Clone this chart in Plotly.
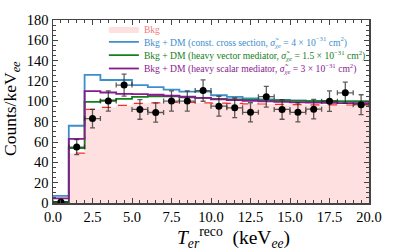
import plotly.graph_objects as go

bin_edges = [0, 1, 2, 3, 4, 5, 6, 7, 8, 9, 10, 11, 12, 13, 14, 15, 16, 17, 18, 19, 20]
bin_centers = [0.5, 1.5, 2.5, 3.5, 4.5, 5.5, 6.5, 7.5, 8.5, 9.5, 10.5, 11.5, 12.5, 13.5, 14.5, 15.5, 16.5, 17.5, 18.5, 19.5]

bkg = [0.5, 49, 92, 94, 96, 98, 98.5, 99, 99, 98.5, 98.3, 98, 97.5, 97.4, 97, 96.8, 96.6, 96.5, 96.4, 96.4]
dm_const = [7, 76, 126, 121, 121, 116, 114, 111.5, 109.5, 109.5, 106, 104.3, 103, 102, 101.5, 101, 100.5, 100.3, 100, 100]
dm_vector = [1, 54, 99.5, 101, 102.5, 104.3, 105, 105, 104, 103.5, 102.5, 102, 101.5, 101, 100.8, 100.5, 100.3, 100.2, 100, 100]
dm_scalar = [4.5, 63, 110, 108.7, 107.4, 107, 106.5, 105.5, 104.5, 103.5, 102, 101.1, 100.5, 100, 99.5, 99, 98.8, 98.5, 98.3, 98.3]

data_counts = [1, 55, 83, 100.3, 116, 92, 89, 100.3, 100.3, 110.6, 95.2, 93.6, 89.2, 104.6, 92, 89.2, 92.3, 100.2, 108.4, 96.7]
data_err = [1, 7.4, 9.1, 10, 10.8, 9.6, 9.4, 10, 10, 10.5, 9.8, 9.7, 9.4, 10.2, 9.6, 9.4, 9.6, 10, 10.4, 9.8]
data_xerr = [0.5] * 20

FONT = "Liberation Serif"
C_BKG_FILL = "#ffe0e0"
C_BKG_LINE = "#ff2a2a"
C_BKG_TEXT = "#f27c7c"
C_BLUE = "#3d8ecb"
C_GREEN = "#14801a"
C_PURPLE = "#8a1a8f"

def step(vals):
    return list(vals) + [vals[-1]]

fig = go.Figure()

fig.add_trace(go.Scatter(
    x=bin_edges, y=step(bkg), mode="lines", line=dict(width=0, shape="hv"),
    fill="tozeroy", fillcolor=C_BKG_FILL, legend="legend",
    name=f'<span style="color:{C_BKG_TEXT}">Bkg</span>'))
fig.add_trace(go.Scatter(
    x=bin_edges, y=step(bkg), mode="lines",
    line=dict(color=C_BKG_LINE, width=1.2, dash="dash", shape="hv"),
    showlegend=False))
fig.add_trace(go.Scatter(
    x=bin_edges, y=step(dm_const), mode="lines",
    line=dict(color=C_BLUE, width=1.8, shape="hv"), legend="legend2",
    name=f'<span style="color:{C_BLUE}">Bkg + DM (const. cross section, <i>σ̃</i><sub><i>χe</i></sub> = 4 × 10<sup>−31</sup> cm<sup>2</sup>)</span>'))
fig.add_trace(go.Scatter(
    x=bin_edges, y=step(dm_vector), mode="lines",
    line=dict(color=C_GREEN, width=1.8, shape="hv"), legend="legend3",
    name=f'<span style="color:{C_GREEN}">Bkg + DM (heavy vector mediator, <i>σ̃</i><sub><i>χe</i></sub> = 1.5 × 10<sup>−31</sup> cm<sup>2</sup>)</span>'))
fig.add_trace(go.Scatter(
    x=bin_edges, y=step(dm_scalar), mode="lines",
    line=dict(color=C_PURPLE, width=1.8, shape="hv"), legend="legend4",
    name=f'<span style="color:{C_PURPLE}">Bkg + DM (heavy scalar mediator, <i>σ̃</i><sub><i>χe</i></sub> = 3 × 10<sup>−31</sup> cm<sup>2</sup>)</span>'))
fig.add_trace(go.Scatter(
    x=bin_centers, y=data_counts, mode="markers",
    marker=dict(color="black", size=7),
    error_y=dict(type="data", array=data_err, color="rgba(40,40,40,0.75)", thickness=1.3, width=2.5),
    error_x=dict(type="data", array=data_xerr, color="rgba(40,40,40,0.75)", thickness=1.3, width=2.5),
    showlegend=False))

axis_common = dict(
    showline=True, linecolor="#444", linewidth=1.5, mirror="ticks",
    ticks="inside", ticklen=5, tickcolor="#444", tickwidth=1,
    showgrid=False, zeroline=False,
    tickfont=dict(family=FONT, size=14.5, color="black"),
)

fig.update_xaxes(range=[0, 20], dtick=2.5, tickformat=".1f",
                 minor=dict(ticks="inside", dtick=0.5, ticklen=3, tickcolor="#444"),
                 **axis_common)
fig.update_yaxes(range=[0, 180], dtick=20,
                 minor=dict(ticks="inside", dtick=5, ticklen=3, tickcolor="#444"),
                 **axis_common)

def leg(yc):
    return dict(x=0.161, y=yc, xanchor="left", yanchor="middle",
                bgcolor="rgba(0,0,0,0)", font=dict(family=FONT, size=9.6),
                itemwidth=30, borderwidth=0)

fig.update_layout(
    width=394, height=251,
    margin=dict(l=53, r=17, t=12, b=48),
    plot_bgcolor="white", paper_bgcolor="white",
    font=dict(family=FONT, color="black"),
    showlegend=True,
    legend=leg(0.951),
    legend2=leg(0.881),
    legend3=leg(0.808),
    legend4=leg(0.735),
    annotations=[
        dict(text="Counts/keV<sub><i>ee</i></sub>", x=-0.129, y=0.515, xref="paper", yref="paper",
             textangle=-90, showarrow=False, font=dict(family=FONT, size=17.5),
             xanchor="center", yanchor="middle"),
        dict(text="<i>T</i><sub><i>er</i></sub><sup>reco</sup>  (keV<sub><i>ee</i></sub>)",
             x=0.57, y=-0.19, xref="paper", yref="paper", showarrow=False,
             font=dict(family=FONT, size=19.5), xanchor="center", yanchor="middle"),
    ],
)

fig.write_html("out.html", config={"displayModeBar": False, "staticPlot": True},
               post_script="document.body.style.margin='0';document.body.style.overflow='hidden';")
